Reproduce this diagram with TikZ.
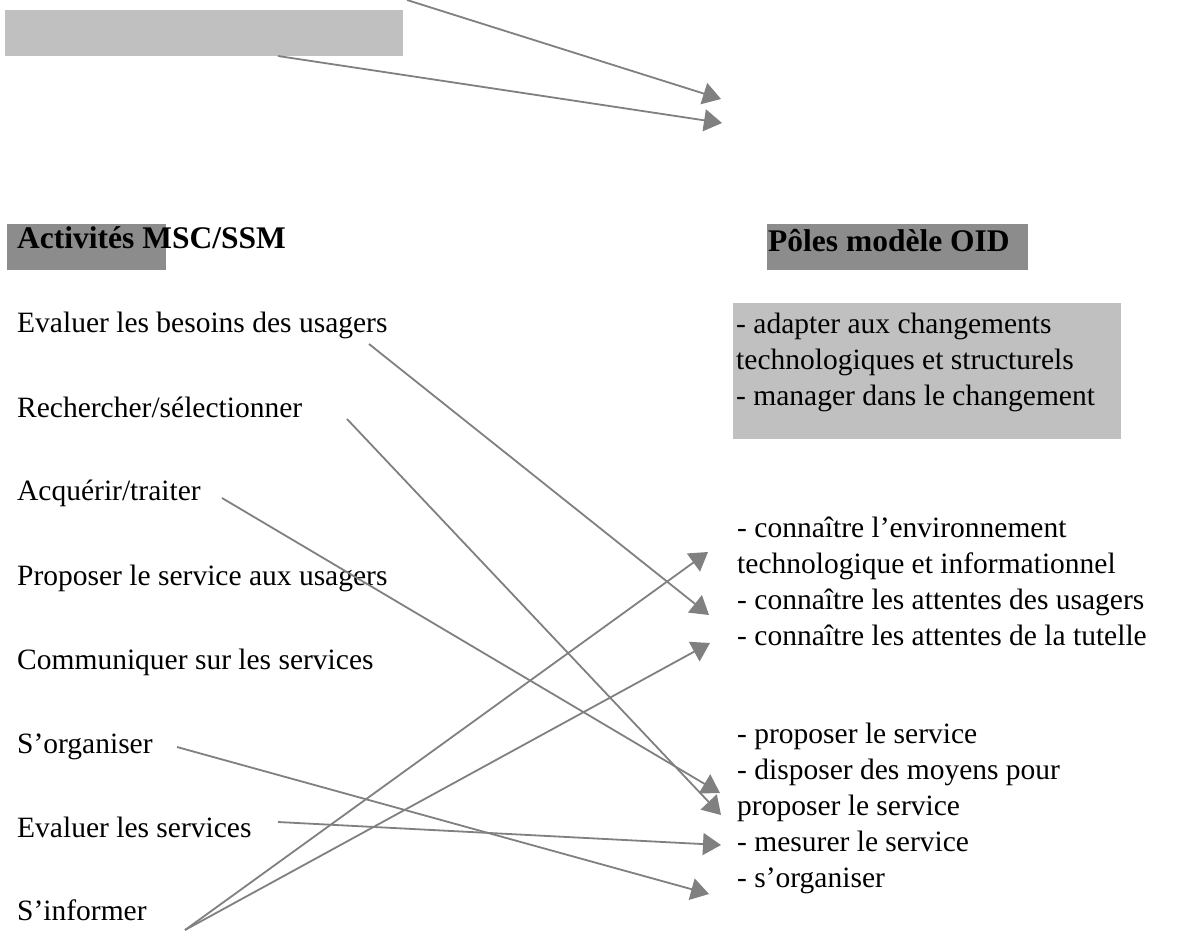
\documentclass[tikz,border=0pt]{standalone}
\usepackage{fontspec}
\setmainfont{Liberation Serif}
\usetikzlibrary{arrows.meta}
\definecolor{lightbox}{HTML}{C0C0C0}
\definecolor{darkbox}{HTML}{8C8C8C}
\definecolor{arrowgray}{HTML}{808080}
\newcommand{\blocklines}[1]{\begin{tabular}[t]{@{}l@{}}#1\end{tabular}}
\begin{document}
\begin{tikzpicture}[x=1pt,y=-1pt,
  txt/.style={anchor=base west,inner sep=0pt,font=\fontsize{29.5}{36}\selectfont},
  hdr/.style={anchor=base west,inner sep=0pt,font=\fontsize{31.5}{36}\selectfont\bfseries},
  lightrect/.style={fill=lightbox,draw=none,inner sep=0pt,anchor=north west},
  darkrect/.style={fill=darkbox,draw=none,inner sep=0pt,anchor=north west},
  link/.style={color=arrowgray,line width=1.8pt,-{Triangle[length=18pt,width=22pt]}}]
\useasboundingbox (0,0) rectangle (1191,932);
\fill[white] (0,0) rectangle (1191,932);

% boxes
\node[lightrect,minimum width=398pt,minimum height=46pt] (topbox) at (5,10) {};
\node[darkrect,minimum width=159pt,minimum height=46pt] (lefthdrbox) at (7,224) {};
\node[darkrect,minimum width=261pt,minimum height=46pt] (righthdrbox) at (767,224) {};
\node[lightrect,minimum width=388pt,minimum height=136pt] (adaptbox) at (733,303) {};

% headers
\node[hdr] (lefthdr) at (17,248) {Activités MSC/SSM};
\node[hdr] (righthdr) at (768,251) {Pôles modèle OID};

% left column
\node[txt] (l1) at (17,332) {Evaluer les besoins des usagers};
\node[txt] (l2) at (17,417) {Rechercher/sélectionner};
\node[txt] (l3) at (17,500) {Acquérir/traiter};
\node[txt] (l4) at (17,585) {Proposer le service aux usagers};
\node[txt] (l5) at (17,669) {Communiquer sur les services};
\node[txt] (l6) at (17,753) {S’organiser};
\node[txt] (l7) at (17,837) {Evaluer les services};
\node[txt] (l8) at (17,920) {S’informer};

% right column
\node[txt] (r1) at (736,333) {\blocklines{- adapter aux changements\\technologiques et structurels\\- manager dans le changement}};
\node[txt] (r2) at (737,537) {\blocklines{- connaître l’environnement\\technologique et informationnel\\- connaître les attentes des usagers\\- connaître les attentes de la tutelle}};
\node[txt] (r3) at (737,743) {\blocklines{- proposer le service\\- disposer des moyens pour\\proposer le service\\- mesurer le service\\- s’organiser}};

% connector end points
\coordinate (topA) at (407,0);
\coordinate (topB) at (278,56);
\coordinate (tipA) at (721,99);
\coordinate (tipB) at (722,123);
\coordinate (s1) at (369,344);
\coordinate (s2) at (347,419);
\coordinate (s3) at (222,498);
\coordinate (s6) at (177,747);
\coordinate (s7) at (278,822);
\coordinate (s8) at (185,930);
\coordinate (tEnv) at (708,552);
\coordinate (tUsa) at (709,615);
\coordinate (tTut) at (710,643);
\coordinate (tDisp) at (720,793);
\coordinate (tProp) at (721,815);
\coordinate (tMes) at (721,845);
\coordinate (tOrg) at (709,894);

% connectors
\draw[link] (topA) -- (tipA);
\draw[link] (topB) -- (tipB);
\draw[link] (s1) -- (tUsa);
\draw[link] (s2) -- (tProp);
\draw[link] (s3) -- (tDisp);
\draw[link] (s6) -- (tOrg);
\draw[link] (s7) -- (tMes);
\draw[link] (s8) -- (tEnv);
\draw[link] (s8) -- (tTut);
\end{tikzpicture}
\end{document}
